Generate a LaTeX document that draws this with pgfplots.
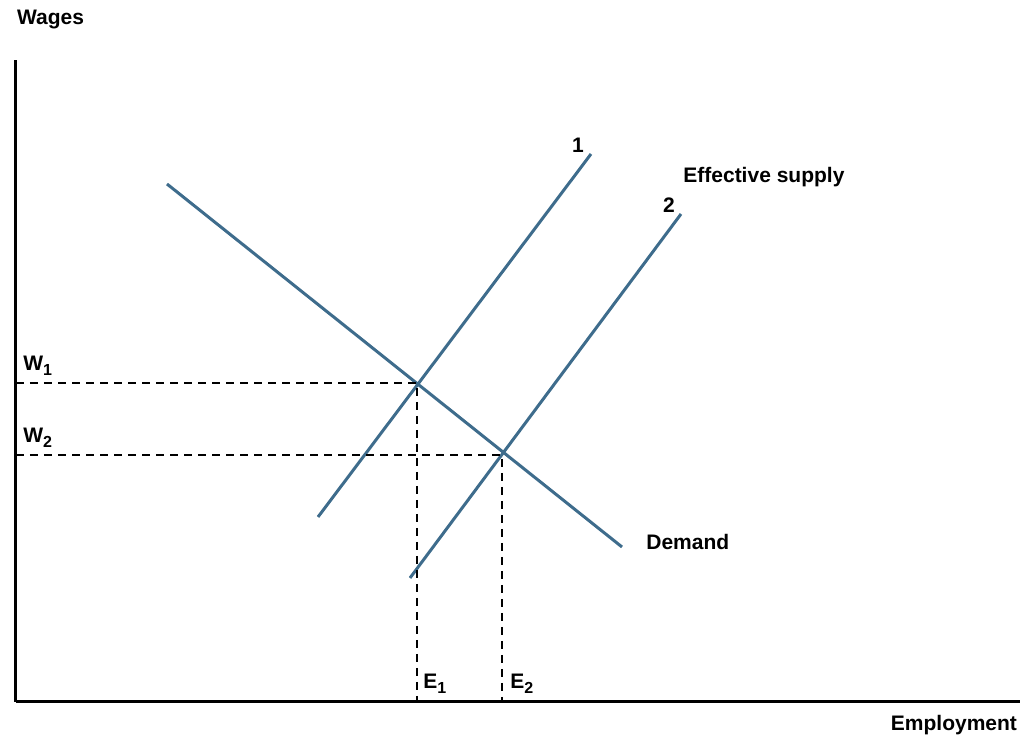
\documentclass[border=0pt]{standalone}
\usepackage{pgfplots}
\pgfplotsset{compat=1.18}
\usepackage{fontspec}
\setmainfont{Liberation Sans}
\definecolor{curve}{RGB}{62,108,140}
\newcommand{\lab}{\fontsize{10.5}{12}\selectfont\bfseries}
\newcommand{\sub}[1]{\raisebox{-0.45ex}{\fontsize{8}{9}\selectfont\bfseries #1}}
\begin{document}
\begin{tikzpicture}[x=0.5pt,y=0.5pt]
\begin{axis}[
  scale only axis,
  width=502pt, height=321pt,
  at={(8pt,18pt)}, anchor=south west,
  xmin=16, xmax=1020, ymin=36, ymax=678,
  axis lines=left,
  axis line style={line width=1.5pt, -},
  xtick=\empty, ytick=\empty,
  clip=false,
]
% demand curve
\addplot[curve, line width=1.5pt] coordinates {(167,554) (622,191)};
% effective supply 1 and 2
\addplot[curve, line width=1.5pt] coordinates {(318,221) (591,584)};
\addplot[curve, line width=1.5pt] coordinates {(410,160) (681,524)};
% dashed guides
\addplot[black, line width=1.2pt, dash pattern=on 4pt off 3pt] coordinates {(16,355) (417,355) (417,36)};
\addplot[black, line width=1.2pt, dash pattern=on 4pt off 3pt] coordinates {(16,283) (502,283) (502,36)};

\node[anchor=west] at (axis cs:10,718) {\lab Wages};
\node[anchor=east] at (axis cs:1024,13) {\lab Employment};
\node[anchor=south west, inner sep=1pt] at (axis cs:21,360) {\lab W\sub{1}};
\node[anchor=south west, inner sep=1pt] at (axis cs:21,288) {\lab W\sub{2}};
\node[anchor=south west, inner sep=1pt] at (axis cs:421,42) {\lab E\sub{1}};
\node[anchor=south west, inner sep=1pt] at (axis cs:508,42) {\lab E\sub{2}};
\node at (axis cs:578,593) {\lab 1};
\node at (axis cs:669,533) {\lab 2};
\node[anchor=west, inner sep=0pt] at (axis cs:683,561) {\lab Effective supply};
\node[anchor=west, inner sep=0pt] at (axis cs:646,196) {\lab Demand};
\path (axis cs:0,0) rectangle (axis cs:1029,738);
\end{axis}
\end{tikzpicture}
\end{document}
